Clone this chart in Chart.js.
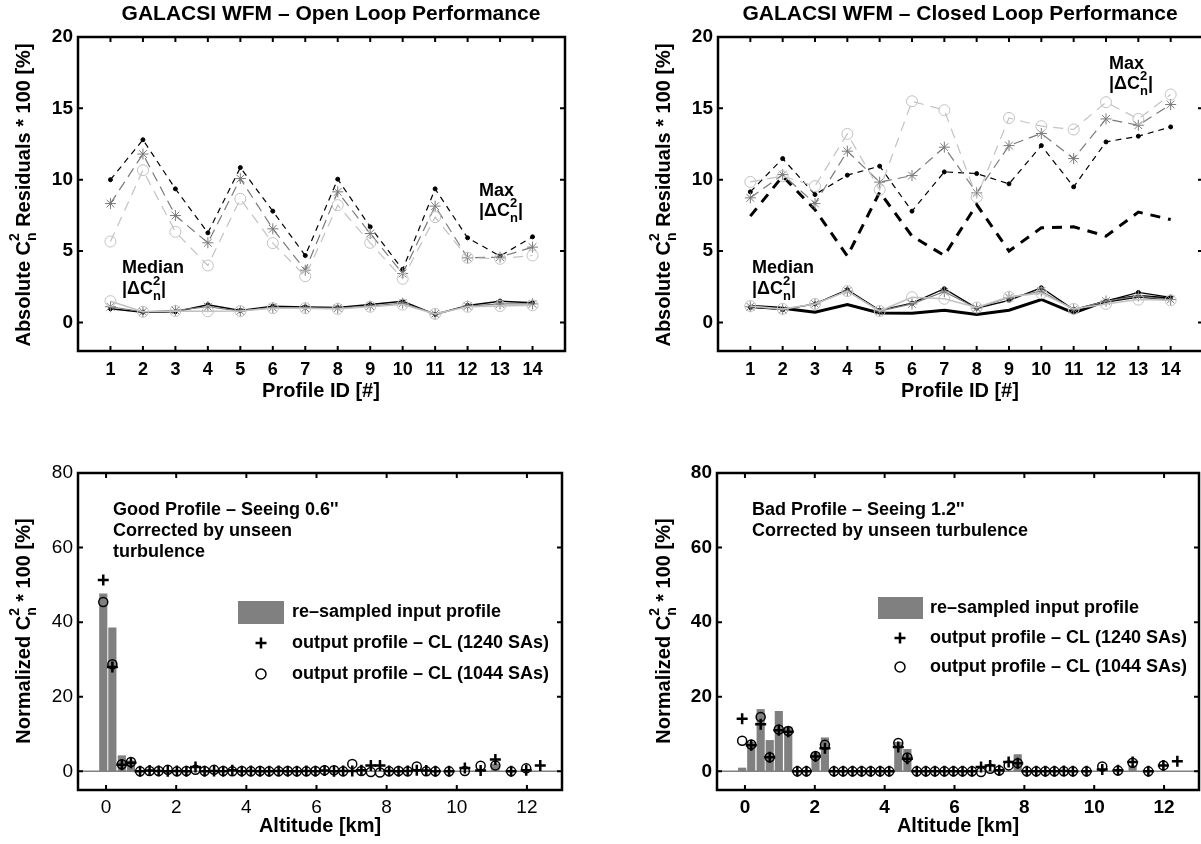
<!DOCTYPE html>
<html><head><meta charset="utf-8">
<script src="https://cdn.jsdelivr.net/npm/chart.js@4.4.1/dist/chart.umd.min.js"></script>
<style>
html,body{margin:0;padding:0;background:#fff;overflow:hidden;width:1201px;height:844px;}
canvas{position:absolute;left:0;top:0;}
</style></head><body>
<canvas id="cTL" width="1210" height="844"></canvas>
<canvas id="cTR" width="1210" height="844"></canvas>
<canvas id="cBL" width="1210" height="844"></canvas>
<canvas id="cBR" width="1210" height="844"></canvas>
<script>
// ---------- DATA ----------
const profileIds = [1,2,3,4,5,6,7,8,9,10,11,12,13,14];
// Open loop
const olMaxBlack  = [10.0,12.8,9.36,6.28,10.85,7.8,4.69,10.04,6.7,3.71,9.36,5.93,4.65,6.0];
const olMaxStar   = [8.33,11.8,7.49,5.58,10.08,6.56,3.66,9.15,6.23,3.43,8.15,4.53,4.58,5.28];
const olMaxCircle = [5.67,10.67,6.35,3.99,8.66,5.56,3.24,8.22,5.58,3.06,7.38,4.53,4.46,4.69];
const olMedBlack  = [0.96,0.72,0.75,1.24,0.84,1.14,1.09,1.04,1.26,1.49,0.56,1.19,1.49,1.38];
const olMedStar   = [1.1,0.75,0.85,1.1,0.8,1.05,1.0,1.0,1.15,1.35,0.6,1.15,1.3,1.3];
const olMedCircle = [1.49,0.75,0.8,0.79,0.8,1.0,1.0,0.95,1.1,1.25,0.6,1.1,1.15,1.2];
// Closed loop
const clMaxBlack  = [9.15,11.48,8.96,10.32,10.95,7.8,10.55,10.43,9.71,12.39,9.5,12.65,13.05,13.7];
const clMaxStar   = [8.73,10.36,8.33,12.0,9.83,10.29,12.28,9.08,12.39,13.24,11.48,14.26,13.82,15.27];
const clMaxCircle = [9.85,10.25,9.55,13.21,9.3,15.5,14.87,8.78,14.33,13.75,13.52,15.43,14.26,15.97];
const clMaxThick  = [7.45,10.25,7.9,4.65,9.13,6.05,4.69,8.26,5.0,6.63,6.7,6.05,7.73,7.21];
const clMedBlack  = [1.05,0.9,1.3,2.3,0.85,1.35,2.36,1.0,1.55,2.43,0.9,1.5,2.1,1.75];
const clMedStar   = [1.1,0.9,1.3,2.2,0.8,1.3,2.15,1.0,1.75,2.2,0.9,1.5,1.85,1.6];
const clMedCircle = [1.15,0.95,1.3,2.2,0.8,1.77,1.66,1.05,1.8,2.05,0.95,1.3,1.6,1.55];
const clMedThick  = [1.14,1.0,0.72,1.26,0.67,0.65,0.86,0.56,0.86,1.61,0.67,1.49,1.84,1.66];
// Altitude profiles [km]
const altitudes = [-0.08,0.18,0.45,0.71,0.97,1.24,1.50,1.76,2.02,2.29,2.55,2.81,3.08,3.34,3.60,3.87,4.13,4.39,4.65,4.92,5.18,5.44,5.71,5.97,6.23,6.50,6.76,7.02,7.28,7.55,7.81,8.07,8.34,8.60,8.86,9.13,9.39,9.78,10.23,10.68,11.10,11.55,11.98,12.38];
const goodInput = [47.6,38.5,4.2,2.8,0,0,0,0,0,0,0,0,0,0,0,0,0,0,0,0,0,0,0,0,0,0,0,0,0,0,0,0,0,0,0,0,0,0,0,0,2.0,0,0,0];
const good1240  = [51.3,28.0,1.8,2.3,0,0.2,0.1,0,0.1,0,1.2,0,0.1,0,0.3,0,0.1,0,0,0.1,0,0,0.1,0,0.2,0,0.1,0.1,0.3,1.6,1.6,0.1,0,0.1,0.3,0.2,0,0,0.9,0.2,3.2,0,0.3,1.6];
const good1044  = [45.4,28.7,1.9,2.5,0,0.1,0.1,0.4,0,0.1,0.4,0.1,0.4,0.1,0,0.1,0,0.1,0,0,0.1,0,0,0.1,0.3,0.3,0,2.0,0.1,-0.2,-0.3,0,0.1,0,1.3,0,0,0,0.1,1.5,1.6,0,0.8,null];
const badInput  = [0.9,7.8,16.6,8.3,16.1,11.9,0,0,5.0,9.0,0,0,0,0,0,0,0,7.8,5.9,0,0,0,0,0,0,0,0,0,0,0,4.5,0,0,0,0,0,0,0,0,0,1.5,0,0,0];
const bad1240   = [14.1,7.0,12.6,3.8,11.0,10.6,0,0,4.0,6.2,0,0,0,0,0,0,0,6.5,3.4,0,0,0,0,0,0,0,1.2,1.6,0.3,2.5,2.2,0,0,0,0,0.1,0,0,0.5,0.3,2.5,0,1.6,2.7];
const bad1044   = [8.2,7.2,14.6,3.8,11.2,10.8,0,0,4.1,7.1,0,0,0,0,0,0,0,7.6,3.7,0,0,0,0,0,0,0,-0.2,0.7,0.2,1.6,2.2,0,0,0,0,0,0,0,1.3,0.2,2.3,0,1.6,null];
// Tick labels
const topXTicks = [1,2,3,4,5,6,7,8,9,10,11,12,13,14];
const topYTicks = [0,5,10,15,20];
const botXTicks = [0,2,4,6,8,10,12];
const botYTicks = [0,20,40,60,80];

// ---------- HELPERS ----------
const FONT = '"Liberation Sans", Arial, Helvetica, sans-serif';
Chart.defaults.font.family = FONT;
Chart.defaults.color = '#000';

function pts(xs, ys){ return xs.map((x,i)=>({x:x, y:ys[i]})); }

function drawRich(ctx, segs, x, y, o){
  const size=o.size||18, weight=o.weight||'bold';
  const sm=Math.round(size*0.72);
  ctx.save(); ctx.translate(x,y); if(o.rot) ctx.rotate(o.rot);
  ctx.fillStyle='#000'; ctx.textBaseline='middle'; ctx.textAlign='left';
  const fb=weight+' '+size+'px '+FONT, fs=weight+' '+sm+'px '+FONT;
  let w=0; const ws=[];
  segs.forEach(s=>{
    let m;
    if(typeof s==='string'){ctx.font=fb; m=ctx.measureText(s).width;}
    else {ctx.font=fs; m=Math.max(ctx.measureText(s.sup||'').width, ctx.measureText(s.sub||'').width);}
    ws.push(m); w+=m;
  });
  let cx = o.align==='center' ? -w/2 : (o.align==='right' ? -w : 0);
  segs.forEach((s,i)=>{
    if(typeof s==='string'){ctx.font=fb; ctx.fillText(s,cx,0);}
    else {ctx.font=fs; if(s.sup) ctx.fillText(s.sup,cx,-size*0.42); if(s.sub) ctx.fillText(s.sub,cx,size*0.4);}
    cx+=ws[i];
  });
  ctx.restore();
}

function framePlugin(xt, yt, zeroLine){
  return {
    id:'frame',
    beforeDatasetsDraw(chart){
      if(!zeroLine) return;
      const {ctx, chartArea:a, scales:{y}} = chart;
      const py=y.getPixelForValue(0);
      ctx.save(); ctx.strokeStyle='#808080'; ctx.lineWidth=1.5;
      ctx.beginPath(); ctx.moveTo(a.left,py); ctx.lineTo(a.right,py); ctx.stroke(); ctx.restore();
    },
    afterDraw(chart){
      const {ctx, chartArea:a, scales:{x,y}} = chart;
      const tl=5;
      ctx.save(); ctx.strokeStyle='#000'; ctx.lineWidth=2;
      ctx.beginPath();
      xt.forEach(v=>{const px=x.getPixelForValue(v);
        ctx.moveTo(px,a.bottom); ctx.lineTo(px,a.bottom-tl);
        ctx.moveTo(px,a.top); ctx.lineTo(px,a.top+tl);});
      yt.forEach(v=>{const py=y.getPixelForValue(v);
        ctx.moveTo(a.left,py); ctx.lineTo(a.left+tl,py);
        ctx.moveTo(a.right,py); ctx.lineTo(a.right-tl,py);});
      ctx.stroke();
      ctx.lineWidth=2.5;
      ctx.strokeRect(a.left,a.top,a.right-a.left,a.bottom-a.top);
      ctx.restore();
    }
  };
}

function textPlugin(items, legend){
  return {
    id:'texts',
    afterDraw(chart){
      const ctx=chart.ctx;
      items.forEach(it=>drawRich(ctx, it.segs, it.x, it.y, it));
      if(legend){
        const L=legend;
        ctx.save();
        ctx.fillStyle='#808080';
        ctx.fillRect(L.rx, L.ry, L.rw, L.rh);
        ctx.strokeStyle='#000'; ctx.lineWidth=2.5;
        ctx.beginPath();
        ctx.moveTo(L.mx-5.5, L.y2); ctx.lineTo(L.mx+5.5, L.y2);
        ctx.moveTo(L.mx, L.y2-5.5); ctx.lineTo(L.mx, L.y2+5.5);
        ctx.stroke();
        ctx.lineWidth=1.5;
        ctx.beginPath(); ctx.arc(L.mx, L.y3, 5, 0, Math.PI*2); ctx.stroke();
        ctx.restore();
        const f={size:18, weight:'bold'};
        drawRich(ctx, ['re–sampled input profile'], L.tx, L.y1, f);
        drawRich(ctx, ['output profile – CL (1240 SAs)'], L.tx, L.y2, f);
        drawRich(ctx, ['output profile – CL (1044 SAs)'], L.tx, L.y3, f);
      }
    }
  };
}

const DC = ['|ΔC',{sup:'2',sub:'n'},'|'];

function topScales(xw, xh){
  return {
    x:{type:'linear', min:0, max:15,
       afterBuildTicks:s=>{s.ticks=topXTicks.map(v=>({value:v}));},
       afterFit:s=>{s.height=xh;},
       ticks:{font:{size:18,weight:'bold'}, color:'#000', padding:8, autoSkip:false, maxRotation:0},
       grid:{display:false, drawTicks:false}, border:{display:false}},
    y:{type:'linear', min:-2, max:20,
       afterBuildTicks:s=>{s.ticks=topYTicks.map(v=>({value:v}));},
       afterFit:s=>{s.width=xw;},
       ticks:{font:{size:19,weight:'bold'}, color:'#000', padding:5},
       grid:{display:false, drawTicks:false}, border:{display:false}}
  };
}

function lineDs(data, o){
  return {type:'line', data:data, fill:false, tension:0,
    borderColor:o.color, borderWidth:o.w||1, borderDash:o.dash||[],
    pointStyle:o.ps||false, pointRadius:o.pr||0, pointBorderColor:o.pc||o.color,
    pointBackgroundColor:o.pf||'rgba(0,0,0,0)', pointBorderWidth:o.pw||1,
    pointHoverRadius:o.pr||0, order:o.order||0};
}

const common = {responsive:false, animation:false, devicePixelRatio:1,
  plugins:{legend:{display:false}, tooltip:{enabled:false}, title:{display:false}},
  events:[]};

const STAR='#7a7a7a', CIRC='#c2c2c2';

// ---------- TOP LEFT ----------
new Chart(document.getElementById('cTL'), {
  type:'line',
  data:{datasets:[
    lineDs(pts(profileIds,olMaxCircle),{color:CIRC,dash:[10,7],ps:'circle',pr:5.5,w:1.2}),
    lineDs(pts(profileIds,olMaxStar),{color:STAR,dash:[10,6],ps:'star',pr:5.5,w:1.2}),
    lineDs(pts(profileIds,olMaxBlack),{color:'#000',dash:[6,5],ps:'circle',pr:2,pf:'#000',w:1.2}),
    lineDs(pts(profileIds,olMedCircle),{color:CIRC,ps:'circle',pr:5.5,w:1.5}),
    lineDs(pts(profileIds,olMedStar),{color:STAR,ps:'star',pr:5.5,w:1.2}),
    lineDs(pts(profileIds,olMedBlack),{color:'#000',ps:'circle',pr:2,pf:'#000',w:1.5})
  ]},
  options:Object.assign({}, common, {
    layout:{padding:{left:0, top:37, right:1210-565, bottom:844-351-60}},
    scales:topScales(78,60)
  }),
  plugins:[framePlugin(topXTicks, topYTicks, false), textPlugin([
    {segs:['GALACSI WFM – Open Loop Performance'], x:331, y:14, align:'center', size:21},
    {segs:['Absolute C',{sup:'2',sub:'n'},' Residuals * 100 [%]'], x:24, y:195, align:'center', size:20, rot:-Math.PI/2},
    {segs:['Profile ID [#]'], x:321, y:391, align:'center', size:20},
    {segs:['Median'], x:122, y:268, size:18},
    {segs:DC, x:122, y:289, size:18},
    {segs:['Max'], x:479, y:191, size:18},
    {segs:DC, x:479, y:211, size:18}
  ])]
});

// ---------- TOP RIGHT ----------
new Chart(document.getElementById('cTR'), {
  type:'line',
  data:{datasets:[
    lineDs(pts(profileIds,clMaxCircle),{color:CIRC,dash:[10,7],ps:'circle',pr:5.5,w:1.2}),
    lineDs(pts(profileIds,clMaxStar),{color:STAR,dash:[10,6],ps:'star',pr:5.5,w:1.2}),
    lineDs(pts(profileIds,clMaxBlack),{color:'#000',dash:[6,5],ps:'circle',pr:2,pf:'#000',w:1.2}),
    lineDs(pts(profileIds,clMaxThick),{color:'#000',dash:[10,8],w:3}),
    lineDs(pts(profileIds,clMedCircle),{color:CIRC,ps:'circle',pr:5.5,w:1.5}),
    lineDs(pts(profileIds,clMedStar),{color:STAR,ps:'star',pr:5.5,w:1.2}),
    lineDs(pts(profileIds,clMedBlack),{color:'#000',ps:'circle',pr:2,pf:'#000',w:1.3}),
    lineDs(pts(profileIds,clMedThick),{color:'#000',w:3})
  ]},
  options:Object.assign({}, common, {
    layout:{padding:{left:718-78, top:37, right:1210-1203, bottom:844-351-60}},
    scales:topScales(78,60)
  }),
  plugins:[framePlugin(topXTicks, topYTicks, false), textPlugin([
    {segs:['GALACSI WFM – Closed Loop Performance'], x:960, y:14, align:'center', size:21},
    {segs:['Absolute C',{sup:'2',sub:'n'},' Residuals * 100 [%]'], x:664, y:195, align:'center', size:20, rot:-Math.PI/2},
    {segs:['Profile ID [#]'], x:960, y:391, align:'center', size:20},
    {segs:['Median'], x:752, y:268, size:18},
    {segs:DC, x:752, y:289, size:18},
    {segs:['Max'], x:1109, y:64, size:18},
    {segs:DC, x:1109, y:84, size:18}
  ])]
});

// ---------- BOTTOM ----------
function botScales(tickWeight){
  return {
    x:{type:'linear', min:-0.8, max:13, offset:false,
       afterBuildTicks:s=>{s.ticks=botXTicks.map(v=>({value:v}));},
       afterFit:s=>{s.height=54;},
       ticks:{font:{size:19,weight:tickWeight}, color:'#000', padding:6, autoSkip:false, maxRotation:0},
       grid:{display:false, drawTicks:false}, border:{display:false}},
    y:{type:'linear', min:-5, max:80,
       afterBuildTicks:s=>{s.ticks=botYTicks.map(v=>({value:v}));},
       afterFit:s=>{s.width=78;},
       ticks:{font:{size:19,weight:tickWeight}, color:'#000', padding:5},
       grid:{display:false, drawTicks:false}, border:{display:false}}
  };
}
function botDatasets(inp, a, b){
  return [
    {type:'bar', data:pts(altitudes,inp), backgroundColor:'#808080', borderWidth:0, barThickness:7.5, grouped:false, order:3},
    {type:'line', data:pts(altitudes,a), showLine:false, pointStyle:'cross', pointRadius:5.5, pointBorderWidth:2.5, pointBorderColor:'#000', pointBackgroundColor:'#000', pointHoverRadius:5.5, order:2},
    {type:'line', data:pts(altitudes,b), showLine:false, pointStyle:'circle', pointRadius:4.5, pointBorderWidth:1.5, pointBorderColor:'#000', pointBackgroundColor:'rgba(0,0,0,0)', pointHoverRadius:4.5, order:1}
  ];
}

new Chart(document.getElementById('cBL'), {
  type:'bar',
  data:{datasets:botDatasets(goodInput, good1240, good1044)},
  options:Object.assign({}, common, {
    layout:{padding:{left:0, top:473, right:1210-562, bottom:0}},
    scales:botScales('normal')
  }),
  plugins:[framePlugin(botXTicks, botYTicks, true), textPlugin([
    {segs:['Normalized C',{sup:'2',sub:'n'},' * 100 [%]'], x:24, y:631, align:'center', size:20, rot:-Math.PI/2},
    {segs:['Altitude [km]'], x:320, y:826, align:'center', size:20},
    {segs:["Good Profile – Seeing 0.6''"], x:113, y:510, size:18},
    {segs:['Corrected by unseen'], x:113, y:531, size:18},
    {segs:['turbulence'], x:113, y:552, size:18}
  ], {rx:238, ry:601, rw:46, rh:23, tx:292, mx:261, y1:612, y2:643, y3:674})]
});

new Chart(document.getElementById('cBR'), {
  type:'bar',
  data:{datasets:botDatasets(badInput, bad1240, bad1044)},
  options:Object.assign({}, common, {
    layout:{padding:{left:717-78, top:473, right:1210-1199, bottom:0}},
    scales:botScales('bold')
  }),
  plugins:[framePlugin(botXTicks, botYTicks, true), textPlugin([
    {segs:['Normalized C',{sup:'2',sub:'n'},' * 100 [%]'], x:664, y:631, align:'center', size:20, rot:-Math.PI/2},
    {segs:['Altitude [km]'], x:958, y:826, align:'center', size:20},
    {segs:["Bad Profile – Seeing 1.2''"], x:752, y:510, size:18},
    {segs:['Corrected by unseen turbulence'], x:752, y:531, size:18}
  ], {rx:878, ry:597, rw:45, rh:22, tx:930, mx:900, y1:608, y2:638, y3:667})]
});
</script>
</body></html>
